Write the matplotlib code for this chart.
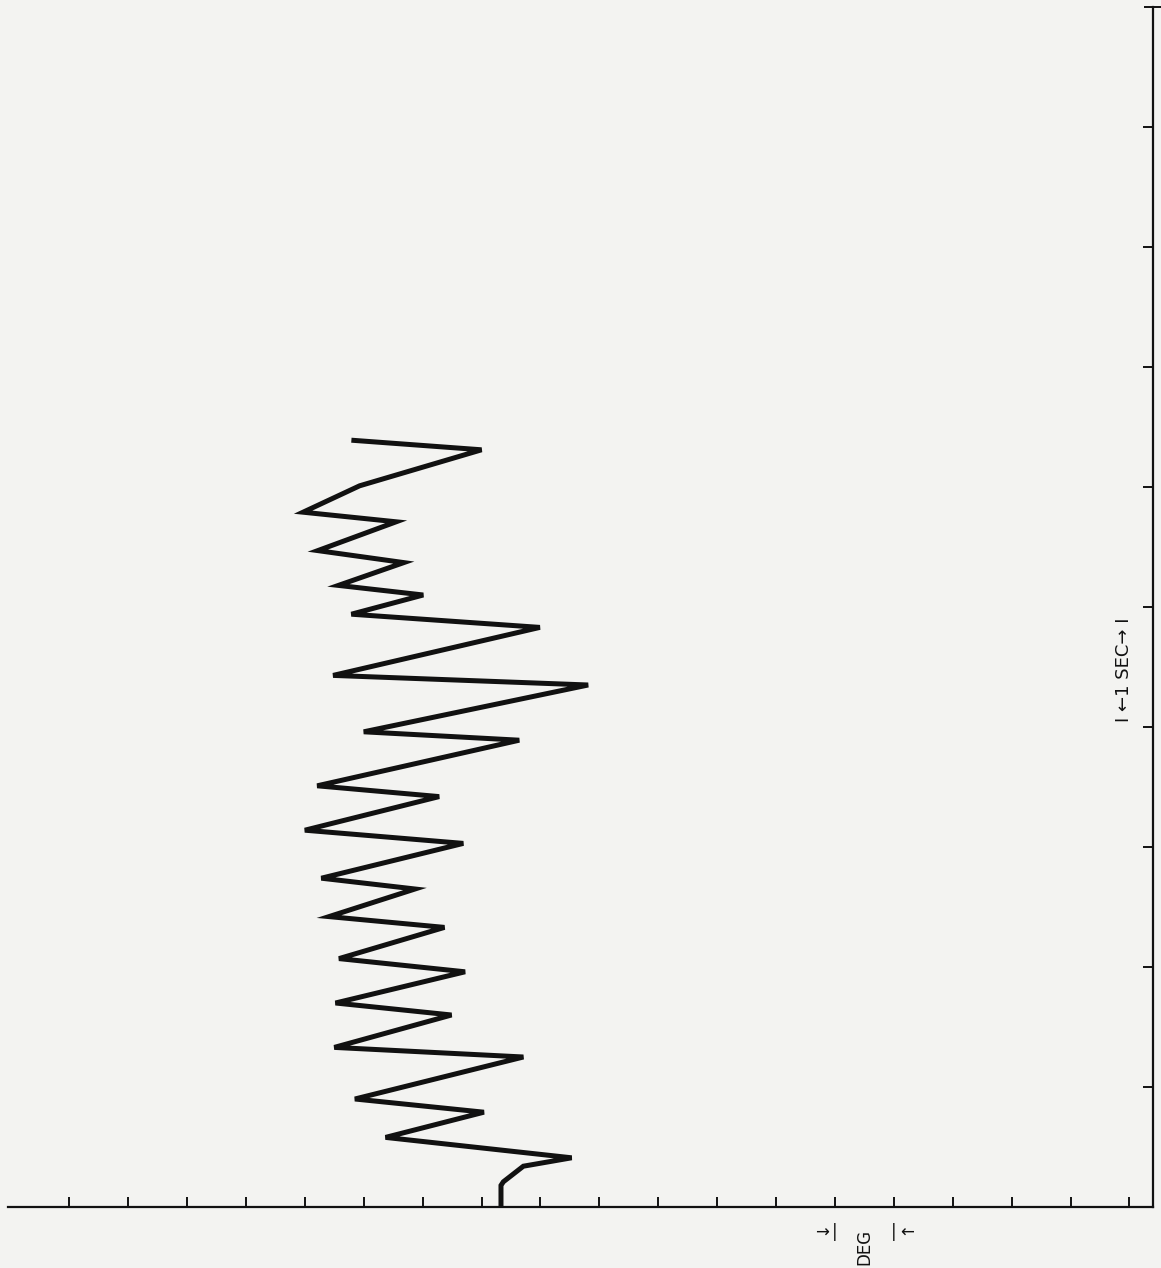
import matplotlib
matplotlib.use("Agg")
import matplotlib.pyplot as plt
from matplotlib.ticker import FixedLocator

# trace: angle (deg, horizontal) vs time (sec, upward)
deg = [8.33, 8.33, 8.37, 8.71, 9.53, 6.37, 8.04, 5.85, 8.71, 5.50,
       7.49, 5.52, 7.72, 5.58, 7.37, 5.41, 6.87, 5.28, 7.69, 5.00,
       7.28, 5.21, 8.64, 6.00, 9.81, 5.48, 8.99, 5.79, 7.01, 5.57,
       6.68, 5.22, 6.55, 4.97, 5.93, 8.00, 5.79]
sec = [0.00, 0.18, 0.21, 0.34, 0.41, 0.58, 0.79, 0.90, 1.25, 1.33,
       1.60, 1.70, 1.96, 2.07, 2.33, 2.42, 2.65, 2.74, 3.03, 3.14,
       3.42, 3.51, 3.89, 3.96, 4.35, 4.43, 4.83, 4.94, 5.10, 5.18,
       5.37, 5.47, 5.71, 5.79, 6.01, 6.31, 6.39]

deg_ticks = list(range(1, 20))
sec_ticks = list(range(1, 10))
deg_marker = [14, 15]          # the "1 DEG" bracket under the axis

W, H = 1161, 1268
bg = "#f3f3f1"
ink = "#111111"

fig = plt.figure(figsize=(W / 100, H / 100), dpi=100, facecolor=bg)
# axes box in pixels: left 8, right 1153, top 7, bottom 1207
ax = fig.add_axes([8 / W, (H - 1207) / H, (1153 - 8) / W, (1207 - 7) / H])
ax.set_facecolor("none")

ax.plot(deg, sec, color=ink, lw=3.6, solid_joinstyle="miter",
        solid_capstyle="butt", clip_on=False)

ax.set_xlim(-0.04, 19.40)
ax.set_ylim(0, 10)

for s in ["top", "left"]:
    ax.spines[s].set_visible(False)
for s in ["bottom", "right"]:
    ax.spines[s].set_linewidth(1.6)
    ax.spines[s].set_color(ink)

ax.xaxis.set_major_locator(FixedLocator(deg_ticks))
ax.yaxis.set_major_locator(FixedLocator(sec_ticks))
ax.yaxis.set_minor_locator(FixedLocator([10]))
ax.yaxis.tick_right()
ax.tick_params(axis="x", direction="in", length=7, width=1.4, color=ink,
               labelbottom=False)
ax.tick_params(axis="y", which="major", direction="in", length=7, width=1.4,
               color=ink, labelright=False, left=False)
ax.tick_params(axis="y", which="minor", direction="inout", length=13,
               width=1.4, color=ink, labelright=False, left=False)

# degree scale bracket below the axis
ax.text(deg_marker[0] - 0.1, -0.21, "→", ha="right", va="center",
        fontsize=12, color=ink, clip_on=False)
ax.text(deg_marker[0], -0.21, "|", ha="center", va="center",
        fontsize=12, color=ink, clip_on=False)
ax.text(deg_marker[1], -0.21, "|", ha="center", va="center",
        fontsize=12, color=ink, clip_on=False)
ax.text(deg_marker[1] + 0.1, -0.21, "←", ha="left", va="center",
        fontsize=12, color=ink, clip_on=False)
ax.text(sum(deg_marker) / 2, -0.33, "DEG", rotation=90, ha="center",
        va="center", fontsize=12, color=ink, clip_on=False)

# time scale label on the right
ax.text(18.91, 4.48, "I ←1 SEC→ I", rotation=90, ha="center", va="center",
        fontsize=13, color=ink)

fig.savefig("out.png", dpi=100, facecolor=bg)
